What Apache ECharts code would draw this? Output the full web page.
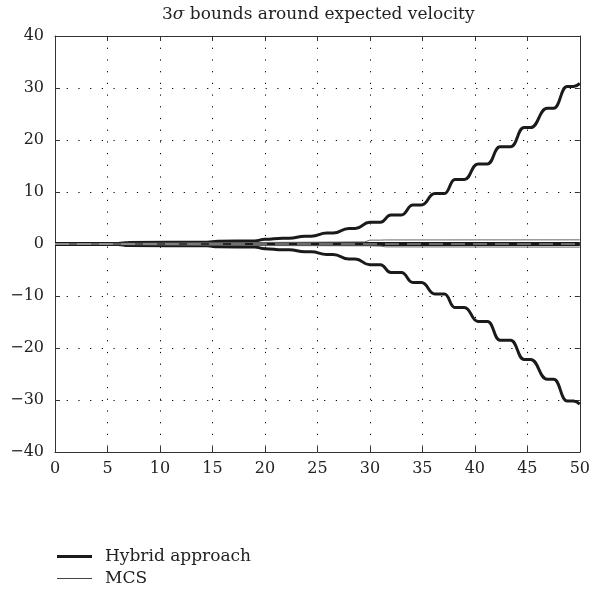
<!DOCTYPE html>
<html>
<head>
<meta charset="utf-8">
<script src="https://cdn.jsdelivr.net/npm/echarts@6/dist/echarts.min.js"></script>
<style>
  html, body { margin: 0; padding: 0; background: #fff; }
  #main { width: 593px; height: 590px; }
</style>
</head>
<body>
<div id="main"></div>
<script>
// hybrid approach: 3 sigma bounds
var hybTime = [0, 6, 7, 14.5, 15.5, 19, 20, 21.7, 22.3, 23.8, 24.4, 25.9, 26.5, 28.0, 28.6, 30.0, 31.0, 32.0, 33.0, 34.1, 34.9, 36.2, 37.1, 38.1, 39.0, 40.3, 41.2, 42.4, 43.4, 44.7, 45.3, 46.9, 47.5, 48.8, 49.4, 50];
var hybUpper = [0.1, 0.1, 0.3, 0.35, 0.55, 0.6, 0.9, 1.1, 1.1, 1.5, 1.5, 2.1, 2.1, 3.0, 3.0, 4.2, 4.2, 5.6, 5.6, 7.5, 7.5, 9.7, 9.7, 12.4, 12.4, 15.4, 15.4, 18.7, 18.7, 22.4, 22.4, 26.1, 26.1, 30.3, 30.3, 30.9];
var hybLower = [-0.1, -0.1, -0.3, -0.35, -0.55, -0.6, -0.9, -1.1, -1.1, -1.5, -1.5, -2.0, -2.0, -2.9, -2.9, -4.0, -4.0, -5.5, -5.5, -7.4, -7.4, -9.6, -9.6, -12.2, -12.2, -14.9, -14.9, -18.5, -18.5, -22.2, -22.2, -26.0, -26.0, -30.2, -30.2, -30.8];
var hybMean = [0, 0];
var meanTime = [0, 50];

// MCS bounds
var mcsTime = [0, 20, 29.5, 30, 31, 31.5, 50];
var mcsUpper = [0.05, 0.3, 0.4, 0.75, 0.75, 0.78, 0.8];
var mcsLower = [-0.05, -0.3, -0.35, -0.35, -0.4, -0.55, -0.6];
var mcsMean = [0, 0];

function pairs(xs, ys) {
  return xs.map(function (x, i) { return [x, ys[i]]; });
}

var font = 'DejaVu Serif';
var dotted = { color: '#000', width: 1, type: [1.2, 10.5] };
var boxLine = { show: true, onZero: false, lineStyle: { color: '#333', width: 1 } };
var minus = function (v) { return String(v).replace('-', '\u2212'); };

var hybStyle = { color: '#1a1a1a', width: 3 };
var mcsStyle = { color: '#666', width: 1 };

var chart = echarts.init(document.getElementById('main'));
chart.setOption({
  animation: false,
  backgroundColor: '#fff',
  title: {
    text: '3{i|σ} bounds around expected velocity',
    left: 157,
    top: 1,
    textStyle: {
      fontFamily: font, fontWeight: 'normal', fontSize: 17, color: '#222',
      rich: { i: { fontFamily: font, fontStyle: 'italic', fontSize: 17, color: '#222' } }
    }
  },
  legend: {
    orient: 'vertical',
    left: 57,
    top: 548,
    padding: 0,
    itemWidth: 35,
    itemHeight: 10,
    itemGap: 5,
    textStyle: { fontFamily: font, fontSize: 17, color: '#222', padding: [0, 0, 0, 8] },
    data: [
      { name: 'Hybrid approach', icon: 'path://M0,0 L35,0 L35,3 L0,3 Z', itemStyle: { color: '#1a1a1a' } },
      { name: 'MCS', icon: 'path://M0,0 L35,0 L35,1 L0,1 Z', itemStyle: { color: '#444' } }
    ]
  },
  grid: { left: 55, right: 10, top: 36, bottom: 138 },
  xAxis: [{
    type: 'value', min: 0, max: 50, interval: 5,
    axisLine: boxLine,
    axisTick: { inside: true, length: 5, lineStyle: { color: '#333' } },
    axisLabel: { fontFamily: font, fontSize: 16, color: '#222', margin: 9 },
    splitLine: { show: true, lineStyle: dotted }
  }, {
    type: 'value', min: 0, max: 50, interval: 5, position: 'top',
    axisLine: boxLine,
    axisTick: { inside: true, length: 5, lineStyle: { color: '#333' } },
    axisLabel: { show: false },
    splitLine: { show: false }
  }],
  yAxis: [{
    type: 'value', min: -40, max: 40, interval: 10,
    axisLine: boxLine,
    axisTick: { inside: true, length: 5, lineStyle: { color: '#333' } },
    axisLabel: { fontFamily: font, fontSize: 16, color: '#222', margin: 11, formatter: minus },
    splitLine: { show: true, lineStyle: dotted }
  }, {
    type: 'value', min: -40, max: 40, interval: 10, position: 'right',
    axisLine: boxLine,
    axisTick: { inside: true, length: 5, lineStyle: { color: '#333' } },
    axisLabel: { show: false },
    splitLine: { show: false }
  }],
  series: [
    { name: 'Hybrid approach', type: 'line', symbol: 'none', smooth: 0.5, smoothMonotone: 'x',
      lineStyle: hybStyle, itemStyle: { color: '#1a1a1a' }, data: pairs(hybTime, hybUpper) },
    { name: 'Hybrid approach', type: 'line', symbol: 'none', smooth: 0.5, smoothMonotone: 'x',
      lineStyle: hybStyle, itemStyle: { color: '#1a1a1a' }, data: pairs(hybTime, hybLower) },
    { name: 'Hybrid approach', type: 'line', symbol: 'none',
      lineStyle: { color: '#1a1a1a', width: 4 }, itemStyle: { color: '#1a1a1a' }, data: pairs(meanTime, hybMean) },
    { name: 'MCS', type: 'line', symbol: 'none', lineStyle: mcsStyle, itemStyle: { color: '#444' },
      data: pairs(mcsTime, mcsUpper) },
    { name: 'MCS', type: 'line', symbol: 'none', lineStyle: mcsStyle, itemStyle: { color: '#444' },
      data: pairs(mcsTime, mcsLower) },
    { name: 'MCS', type: 'line', symbol: 'none',
      lineStyle: { color: '#bbb', width: 1, type: [14, 8] }, itemStyle: { color: '#444' },
      data: pairs(meanTime, mcsMean) }
  ]
});
</script>
</body>
</html>
